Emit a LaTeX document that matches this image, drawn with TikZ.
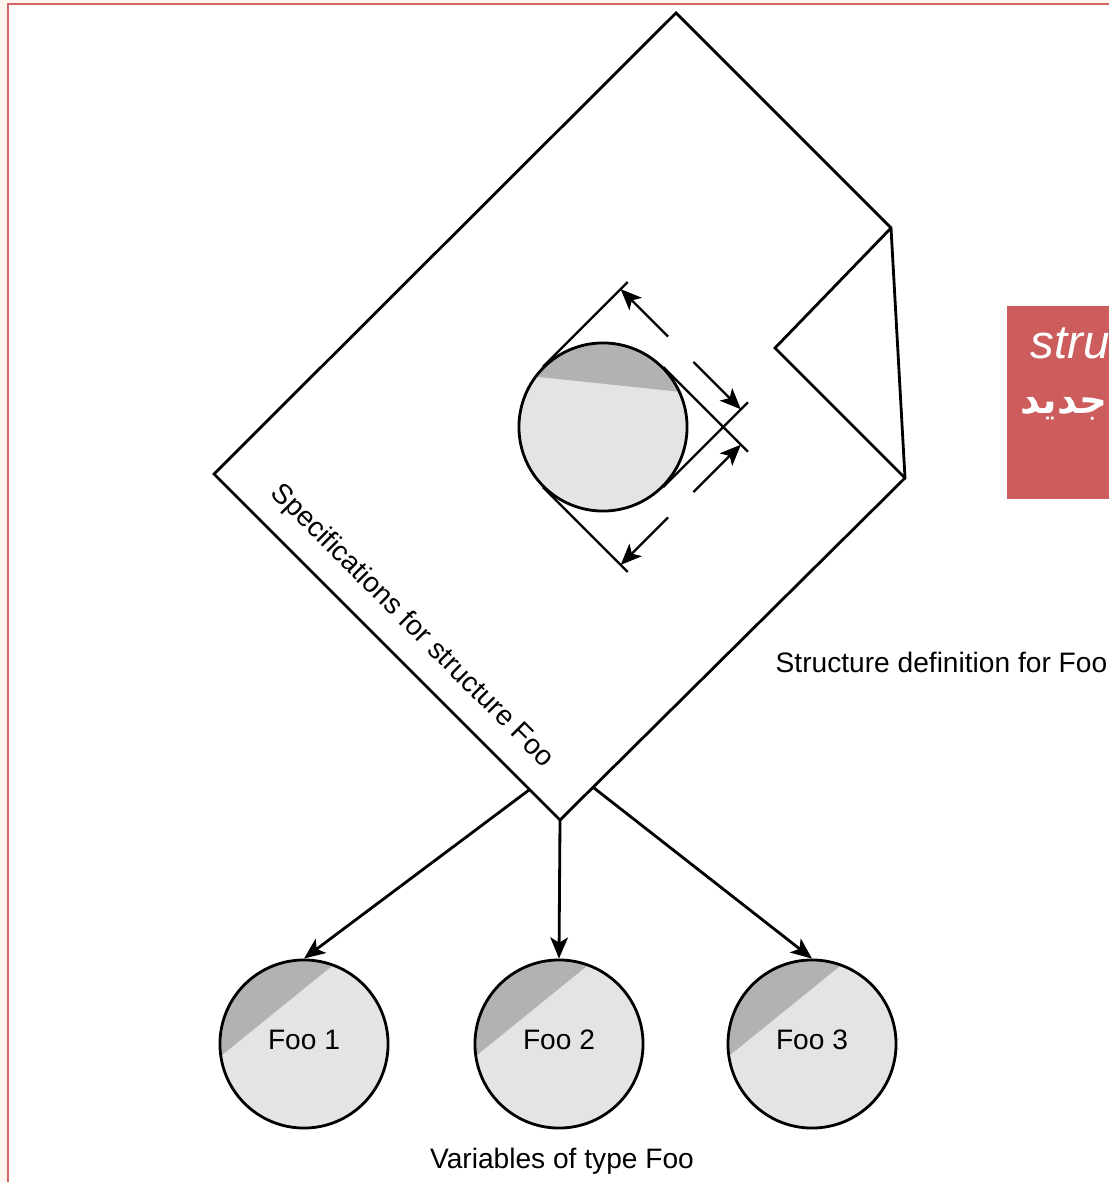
\documentclass[tikz,border=0pt]{standalone}
\usepackage{fontspec}
\setmainfont{Liberation Sans}
\newfontfamily\arabicfont[Script=Arabic]{DejaVu Sans}
\TeXXeTstate=1
\usepackage{tikz}
\usetikzlibrary{arrows.meta}

\definecolor{capgray}{RGB}{178,178,178}
\definecolor{bodygray}{RGB}{228,228,228}
\definecolor{framered}{RGB}{214,100,100}
\definecolor{boxred}{RGB}{205,92,92}
\definecolor{cream}{RGB}{255,244,238}

\tikzset{
  sheet/.style={line width=0.8pt, line join=miter},
  txt/.style={inner sep=0pt, font=\fontsize{8}{10}\selectfont},
  varcircle/.style={circle, draw, line width=0.8pt, minimum size=1.68cm, inner sep=0pt,
    fill=bodygray, font=\fontsize{8}{10}\selectfont, text depth=2.3pt,
    path picture={\fill[capgray] (path picture bounding box.center) ++(#1:0.43cm)
      ++(#1-90:2cm) -- ++(#1:2cm) -- ++(#1+90:4cm) -- ++(#1+180:2cm) -- cycle;}},
  flow/.style={line width=0.8pt, -{Stealth[length=6pt,width=5pt,inset=1.5pt]}},
  dimline/.style={line width=0.65pt},
  dimarrow/.style={line width=0.65pt, -{Stealth[length=6pt,width=5pt,inset=1.5pt]}}
}

\begin{document}
\begin{tikzpicture}[x=0.01cm, y=-0.01cm]
%\draw[step=1cm,gray,very thin] (0,0) grid (1109,1182);
\useasboundingbox (0,0) rectangle (1109,1182);
\fill[cream] (0,0) rectangle (1109,3) (0,0) rectangle (7,1182);
\draw[framered, line width=0.6pt] (8,1182) -- (8,4) -- (1109,4);

% folded sheet
\coordinate (top) at (676,13);
\coordinate (left) at (214,474);
\coordinate (bottom) at (560,820);
\coordinate (foldtop) at (891,228);
\coordinate (foldin) at (775,348);
\coordinate (foldbot) at (905,478);
\coordinate (outl) at (529,790);
\coordinate (outr) at (594,788);
\draw[sheet] (top)--(left)--(bottom)--(foldbot)--(foldtop)--cycle;
\draw[sheet] (foldtop)--(foldin)--(foldbot);
\node[txt, rotate=-45] (spec) at (412,626) {Specifications for structure Foo};
\node[txt, anchor=base west] (def) at (775,672) {Structure definition for Foo};

% member with its dimensions
\begin{scope}[shift={(603,427)}, rotate=45]
\draw[dimline] (0,-85)--(120,-85) (0,85)--(120,85) (85,0)--(85,120) (-85,0)--(-85,120);
\draw[dimarrow] (110,-18)--(110,-85);
\draw[dimarrow] (110,18)--(110,85);
\draw[dimarrow] (18,110)--(85,110);
\draw[dimarrow] (-18,110)--(-85,110);
\end{scope}
\node[varcircle=84] (member) at (603,427) {};

% variables
\node[varcircle=129] (foo1) at (304,1044) {Foo 1};
\node[varcircle=129] (foo2) at (559,1044) {Foo 2};
\node[varcircle=129] (foo3) at (812,1044) {Foo 3};
\draw[flow] (outl) -- (foo1.north);
\draw[flow] (bottom) -- (foo2.north);
\draw[flow] (outr) -- (foo3.north);
\node[txt, anchor=base] (vars) at (562,1168) {Variables of type Foo};

% red tag
\fill[boxred] (1007,306) rectangle (1109,499);
\node[inner sep=0pt, anchor=base west, text=white, font=\fontsize{13.5}{16}\selectfont\itshape] (stru) at (1030,358) {stru};
\node[inner sep=0pt, anchor=base east, text=white, font=\fontsize{11}{13}\selectfont\bfseries] (jadid) at (1108,413) {\arabicfont\beginR جديد\endR};
\end{tikzpicture}
\end{document}
